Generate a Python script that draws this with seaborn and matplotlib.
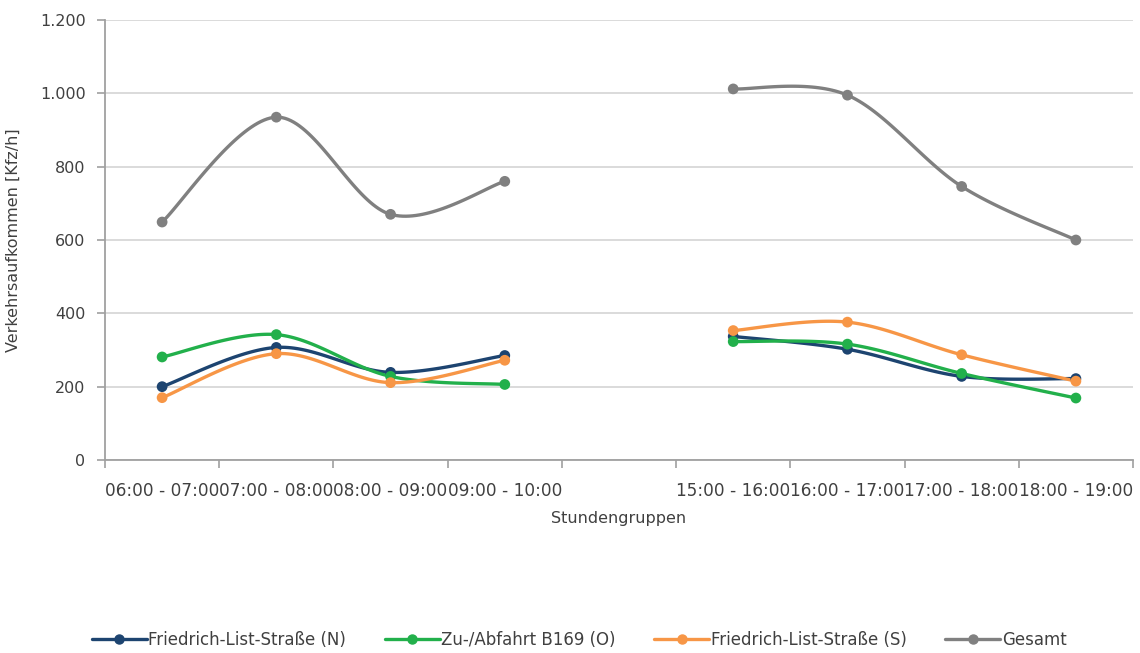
import numpy as np
import pandas as pd
import matplotlib
matplotlib.use("Agg")
import matplotlib.pyplot as plt
from matplotlib.lines import Line2D
import matplotlib.ticker as mticker
import seaborn as sns

# ---------------- data ----------------
categories = ["06:00 - 07:00", "07:00 - 08:00", "08:00 - 09:00", "09:00 - 10:00", "",
              "15:00 - 16:00", "16:00 - 17:00", "17:00 - 18:00", "18:00 - 19:00"]
series_names = ["Friedrich-List-Straße (N)", "Zu-/Abfahrt B169 (O)",
                "Friedrich-List-Straße (S)", "Gesamt"]
nord = [200, 307, 239, 285, np.nan, 337, 302, 228, 222]
ost = [281, 342, 228, 206, np.nan, 323, 316, 236, 169]
sued = [170, 290, 211, 272, np.nan, 353, 376, 287, 215]
gesamt = [649, 935, 670, 760, np.nan, 1012, 995, 746, 600]
y_ticks = [0, 200, 400, 600, 800, 1000, 1200]

colors = ["#1d4470", "#22b04b", "#f79646", "#808080"]

sns.set_theme(style="white")
plt.rcParams['font.family'] = ['DejaVu Sans']
txt = "#404040"

fig = plt.figure(figsize=(11.4, 6.53), dpi=100)
ax = fig.add_axes([105 / 1140, 1 - 460 / 653, 1028 / 1140, 440 / 653])

x = np.arange(len(categories))
values = [nord, ost, sued, gesamt]

rows = []
for name, vals in zip(series_names, values):
    for xi, v in zip(x, vals):
        if not np.isnan(v):
            rows.append({"x": xi, "y": v, "series": name})
df = pd.DataFrame(rows)


def smooth(xs, ys, n=40):
    """Catmull-Rom style bezier smoothing (like spreadsheet smoothed lines)."""
    xs = np.asarray(xs, float)
    ys = np.asarray(ys, float)
    px, py = [], []
    m = len(xs)
    for i in range(m - 1):
        x0, y0 = xs[max(i - 1, 0)], ys[max(i - 1, 0)]
        x1, y1 = xs[i], ys[i]
        x2, y2 = xs[i + 1], ys[i + 1]
        x3, y3 = xs[min(i + 2, m - 1)], ys[min(i + 2, m - 1)]
        c1x, c1y = x1 + (x2 - x0) / 6, y1 + (y2 - y0) / 6
        c2x, c2y = x2 - (x3 - x1) / 6, y2 - (y3 - y1) / 6
        t = np.linspace(0, 1, n)
        bx = (1 - t) ** 3 * x1 + 3 * (1 - t) ** 2 * t * c1x + 3 * (1 - t) * t ** 2 * c2x + t ** 3 * x2
        by = (1 - t) ** 3 * y1 + 3 * (1 - t) ** 2 * t * c1y + 3 * (1 - t) * t ** 2 * c2y + t ** 3 * y2
        px.extend(bx)
        py.extend(by)
    return np.array(px), np.array(py)


ax.set_ylim(0, 1200)
ax.set_xlim(-0.5, len(categories) - 0.5)
ax.set_yticks(y_ticks)
ax.yaxis.grid(True, color="#d4d4d4", linewidth=1.2)
ax.set_axisbelow(True)

for idx in [0, 1, 2, 3]:
    vals = np.asarray(values[idx], float)
    for seg in (slice(0, 4), slice(5, 9)):
        xs = x[seg]
        ys = vals[seg]
        sx, sy = smooth(xs, ys)
        ax.plot(sx, sy, color=colors[idx], linewidth=2.4, solid_capstyle="round", zorder=2 + idx * 0.1)

sns.scatterplot(data=df, x="x", y="y", hue="series", palette=dict(zip(series_names, colors)),
                s=60, edgecolor="none", legend=False, ax=ax, zorder=3)

for s in ["top", "right"]:
    ax.spines[s].set_visible(False)
for s in ["left", "bottom"]:
    ax.spines[s].set_color("#a0a0a0")
    ax.spines[s].set_linewidth(1.3)

ax.yaxis.set_major_formatter(mticker.FuncFormatter(lambda v, p: f"{int(v):,}".replace(",", ".")))
ax.tick_params(axis="y", which="major", left=True, length=6, width=1.2, color="#a0a0a0",
               labelsize=11.5, labelcolor=txt, pad=8)

ax.set_xticks(np.arange(-0.5, len(categories), 1.0))
ax.set_xticklabels([])
ax.set_xticks(x, minor=True)
ax.set_xticklabels(categories, minor=True)
ax.tick_params(axis="x", which="major", bottom=True, length=6, width=1.2, color="#a0a0a0")
ax.tick_params(axis="x", which="minor", bottom=False, length=0, labelsize=12.2, labelcolor=txt, pad=16)

ax.set_xlabel("Stundengruppen", fontsize=11.5, color=txt, labelpad=8)
ax.set_ylabel("Verkehrsaufkommen [Kfz/h]", fontsize=11.5, color=txt, labelpad=14)

handles = [Line2D([0], [0], color=c, linewidth=2.4, marker="o", markersize=6.5) for c in colors]
fig.legend(handles, series_names, loc="center", bbox_to_anchor=(0.508, 1 - 640 / 653), ncol=4,
           frameon=False, fontsize=12, labelcolor=txt, handlelength=3.3, handletextpad=0.1,
           columnspacing=2.3)

fig.savefig("out.png", dpi=100)
